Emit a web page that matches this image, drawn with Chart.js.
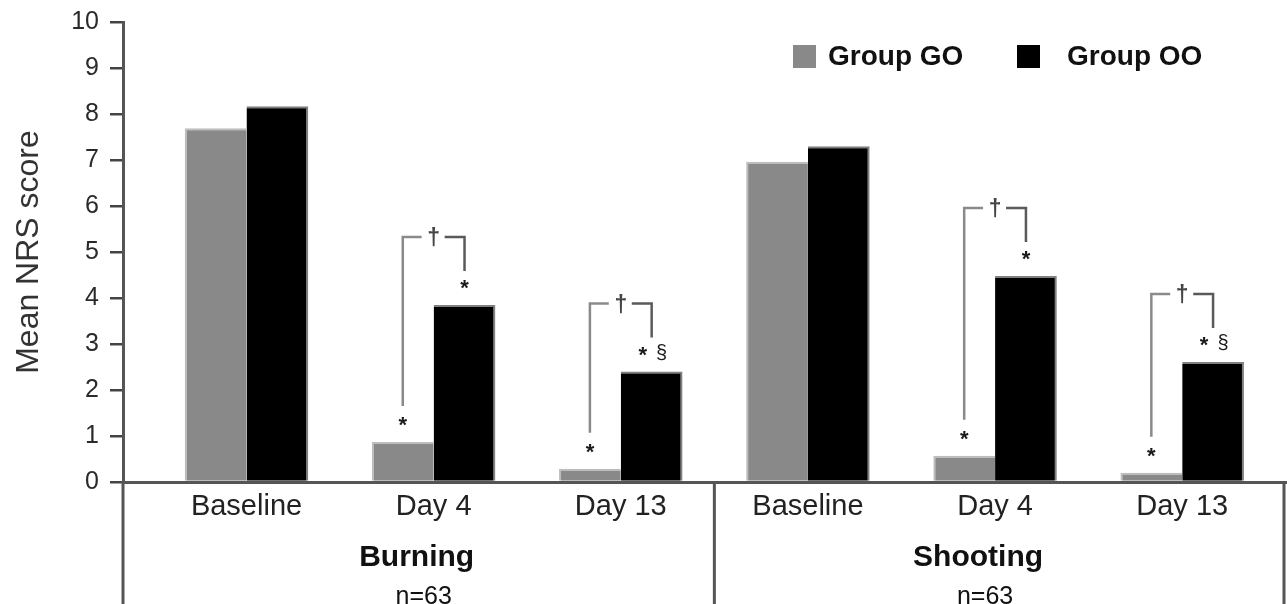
<!DOCTYPE html>
<html>
<head>
<meta charset="utf-8">
<script src="https://cdn.jsdelivr.net/npm/chart.js@4/dist/chart.umd.min.js"></script>
<style>
  html, body { margin: 0; padding: 0; background: #fff; overflow: hidden; }
  canvas { display: block; }
</style>
</head>
<body>
<canvas id="nrs" width="1287" height="604"></canvas>
<script>
// Categories along the x axis (two symptom groups of three time points)
const categories = ['Baseline', 'Day 4', 'Day 13', 'Baseline', 'Day 4', 'Day 13'];
const groupTitles = ['Burning', 'Shooting'];
const groupSizes = ['n=63', 'n=63'];

// Mean NRS score per treatment group
const seriesNames = ['Group GO', 'Group OO'];
const groupGO = [7.69, 0.87, 0.29, 6.96, 0.57, 0.20];
const groupOO = [8.17, 3.85, 2.40, 7.30, 4.48, 2.61];

// Significance marks above each bar and on the between-group brackets
const markGO = ['', '*', '*', '', '*', '*'];
const markOO = ['', '*', '* §', '', '*', '* §'];
const bracketMark = ['', '†', '†', '', '†', '†'];

// Value axis ticks
const yTicks = [0, 1, 2, 3, 4, 5, 6, 7, 8, 9, 10];

const FONT = "'Liberation Sans', Arial, Helvetica, sans-serif";
const AXIS_COLOR = '#555';
const GO_COLOR = '#898989';
const OO_COLOR = '#000000';

const toPoints = (values) => values.map((v, i) => ({ x: i, y: v }));

// Brackets, asterisks, group captions, separators and legend
const decorations = {
  id: 'decorations',
  afterDatasetsDraw(chart) {
    const ctx = chart.ctx;
    const area = chart.chartArea;
    const xs = chart.scales.x;
    const goBars = chart.getDatasetMeta(0).data;
    const ooBars = chart.getDatasetMeta(1).data;
    ctx.save();

    // significance marks above bars
    ctx.fillStyle = '#1a1a1a';
    ctx.textAlign = 'center';
    ctx.textBaseline = 'middle';
    const drawMarks = (mark, bar) => {
      if (!mark) return;
      const tokens = mark.split(' ');
      const offs = tokens.length > 1 ? [-9, 10] : [0];
      tokens.forEach((t, k) => {
        if (t === '*') {
          ctx.font = 'bold 22px ' + FONT;
          ctx.fillText(t, bar.x + offs[k], bar.y - 21 + 5);
        } else {
          ctx.font = '20px ' + FONT;
          ctx.fillText(t, bar.x + offs[k], bar.y - 18);
        }
      });
    };
    goBars.forEach((b, i) => drawMarks(markGO[i], b));
    ooBars.forEach((b, i) => drawMarks(markOO[i], b));

    // brackets between the two groups
    ctx.lineWidth = 2.5;
    bracketMark.forEach((m, i) => {
      if (!m) return;
      const go = goBars[i], oo = ooBars[i];
      const topY = oo.y - 68;
      const mid = (go.x + oo.x) / 2;
      ctx.strokeStyle = '#8a8a8a';
      ctx.beginPath();
      ctx.moveTo(go.x, go.y - 36);
      ctx.lineTo(go.x, topY);
      ctx.lineTo(mid - 12, topY);
      ctx.stroke();
      ctx.strokeStyle = '#5a5a5a';
      ctx.beginPath();
      ctx.moveTo(mid + 11, topY);
      ctx.lineTo(oo.x, topY);
      ctx.lineTo(oo.x, oo.y - 34);
      ctx.stroke();
      ctx.fillStyle = '#444';
      ctx.font = 'bold 23px ' + FONT;
      ctx.fillText(m, mid, topY + 2);
    });

    // axis extension and group separators under the x axis
    ctx.strokeStyle = AXIS_COLOR;
    ctx.lineWidth = 3;
    const bottom = chart.height;
    const sepX = xs.getPixelForValue(2.5);
    [area.left, sepX, area.right - 3].forEach((x) => {
      ctx.beginPath();
      ctx.moveTo(x, area.bottom);
      ctx.lineTo(x, bottom);
      ctx.stroke();
    });

    // group captions
    ctx.fillStyle = '#111';
    groupTitles.forEach((title, g) => {
      const cx = xs.getPixelForValue(g * 3 + 1);
      ctx.font = 'bold 30px ' + FONT;
      ctx.fillText(title, cx - 17, 558);
      ctx.font = '25px ' + FONT;
      ctx.fillText(groupSizes[g], cx - 10, 597);
    });

    // legend
    const colors = [GO_COLOR, OO_COLOR];
    const legendX = [area.right - 494, area.right - 270];
    ctx.textAlign = 'left';
    ctx.font = 'bold 28px ' + FONT;
    seriesNames.forEach((name, k) => {
      const x0 = legendX[k];
      ctx.fillStyle = colors[k];
      ctx.fillRect(x0, 45, 23, 23);
      ctx.fillStyle = '#111';
      ctx.fillText(name, x0 + 35 + (k ? 15 : 0), 57);
    });
    ctx.restore();
  }
};

new Chart(document.getElementById('nrs'), {
  type: 'bar',
  data: {
    datasets: [
      {
        label: seriesNames[0],
        data: toPoints(groupGO),
        backgroundColor: GO_COLOR,
        borderColor: '#bdbdbd',
        borderWidth: { top: 2, left: 2, right: 0, bottom: 0 },
        borderSkipped: 'bottom'
      },
      {
        label: seriesNames[1],
        data: toPoints(groupOO),
        backgroundColor: OO_COLOR,
        borderColor: '#808080',
        borderWidth: { top: 2, right: 2, left: 0, bottom: 0 },
        borderSkipped: 'bottom'
      }
    ]
  },
  options: {
    responsive: false,
    animation: false,
    devicePixelRatio: 1,
    categoryPercentage: 0.66,
    barPercentage: 1.0,
    layout: { padding: { top: 22, right: 0, bottom: 0, left: 0 } },
    plugins: {
      legend: { display: false },
      tooltip: { enabled: false }
    },
    scales: {
      x: {
        type: 'linear',
        min: -0.66,
        max: 5.56,
        offset: false,
        afterBuildTicks: (scale) => { scale.ticks = categories.map((_, i) => ({ value: i })); },
        afterFit: (scale) => { scale.height = 122; scale.paddingLeft = 0; scale.paddingRight = 0; },
        grid: { display: false, drawTicks: false },
        border: { display: true, color: AXIS_COLOR, width: 3 },
        ticks: {
          autoSkip: false,
          maxRotation: 0,
          padding: 8,
          color: '#222',
          font: { family: FONT, size: 29 },
          callback: (v) => categories[v]
        }
      },
      y: {
        min: 0,
        max: 10,
        afterBuildTicks: (scale) => { scale.ticks = yTicks.map((v) => ({ value: v })); },
        afterFit: (scale) => { scale.width = 123; scale.paddingTop = 0; scale.paddingBottom = 0; },
        grid: { drawOnChartArea: false, drawTicks: true, tickLength: 13, color: '#444', lineWidth: 2.5 },
        border: { display: true, color: AXIS_COLOR, width: 3 },
        ticks: {
          padding: 11,
          color: '#2a2a2a',
          font: { family: FONT, size: 25 }
        },
        title: {
          display: true,
          text: 'Mean NRS score',
          color: '#333',
          font: { family: FONT, size: 32 },
          padding: { top: 10, bottom: 0 }
        }
      }
    }
  },
  plugins: [decorations]
});
</script>
</body>
</html>
